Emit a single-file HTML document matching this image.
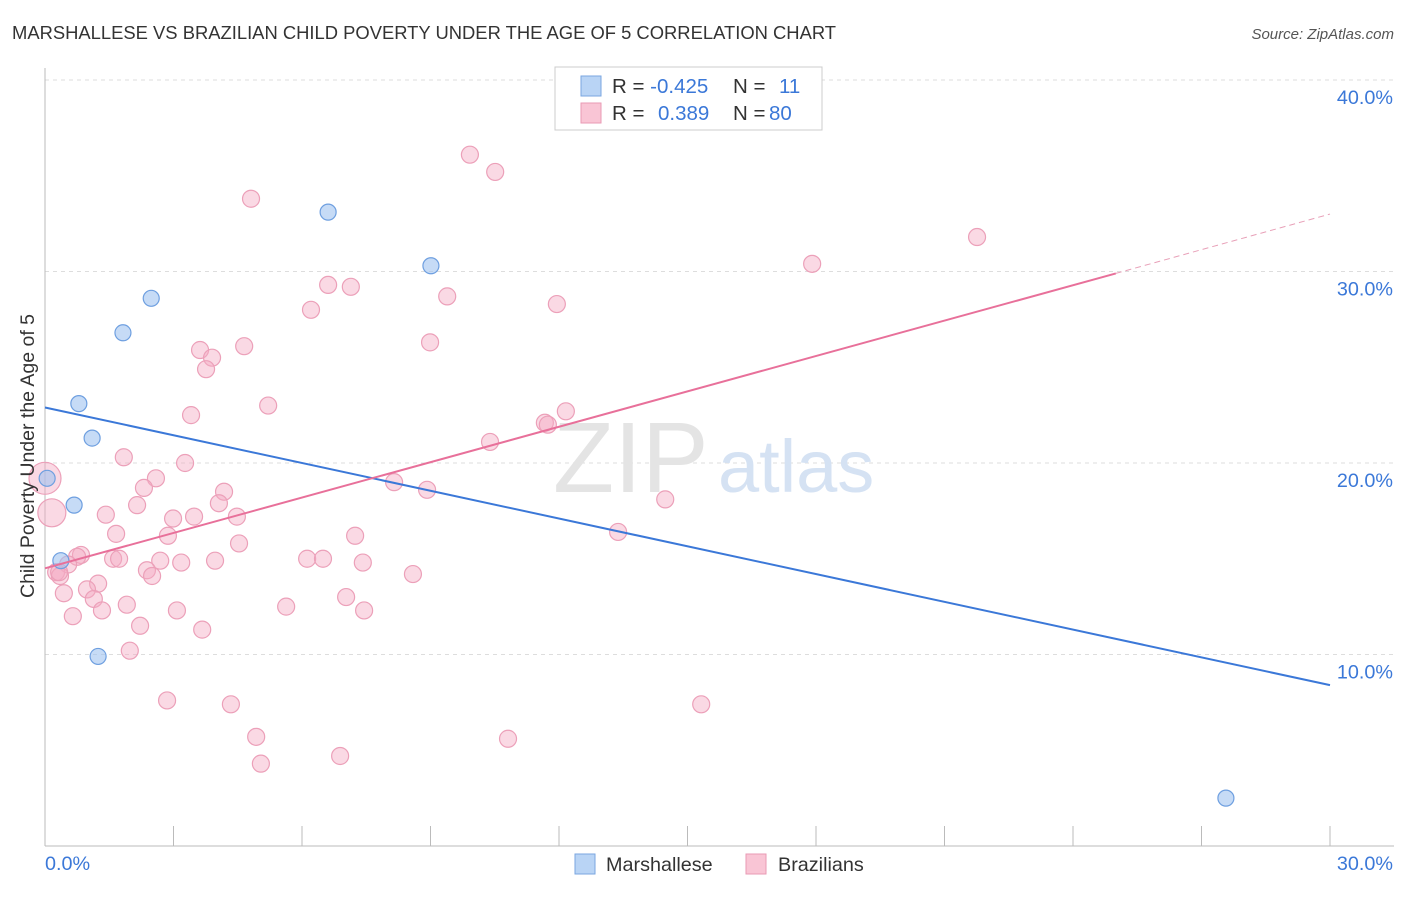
<!DOCTYPE html>
<html><head><meta charset="utf-8"><style>
body{margin:0;background:#fff;font-family:"Liberation Sans",sans-serif;}
svg text{font-family:"Liberation Sans",sans-serif;}
</style></head><body>
<svg id="chart" width="1406" height="892" xmlns="http://www.w3.org/2000/svg">
<text x="12" y="39" font-size="18.4" fill="#333">MARSHALLESE VS BRAZILIAN CHILD POVERTY UNDER THE AGE OF 5 CORRELATION CHART</text>
<text x="1394" y="39" font-size="15" fill="#555" font-style="italic" text-anchor="end">Source: ZipAtlas.com</text>
<g id="grid"></g>
<g><text x="553" y="492" font-size="100" fill="#e4e4e4" font-family="Liberation Serif">ZIP</text><text x="718" y="492" font-size="74" fill="#d5e2f3">atlas</text></g>
<g id="axes"></g>
<g id="pts"></g>
<g id="lines"></g>
<text transform="translate(34,456) rotate(-90)" font-size="19.5" fill="#333" text-anchor="middle">Child Poverty Under the Age of 5</text>
<g>
<rect x="555" y="67" width="267" height="63" fill="#fff" stroke="#ccc"/>
<rect x="581" y="76" width="20" height="20" fill="#b9d4f5" stroke="#7aa6e0"/>
<rect x="581" y="103" width="20" height="20" fill="#f9c5d5" stroke="#e99ab4"/>
<text x="612" y="93" font-size="20.5" fill="#333">R = <tspan fill="#3b78d8">-0.425</tspan><tspan x="733">N = </tspan><tspan x="779" fill="#3b78d8">11</tspan></text>
<text x="612" y="120" font-size="20.5" fill="#333">R = <tspan x="658" fill="#3b78d8">0.389</tspan><tspan x="733">N = </tspan><tspan x="769" fill="#3b78d8">80</tspan></text>
</g>
<g>
<rect x="575" y="854" width="20" height="20" fill="#b9d4f5" stroke="#7aa6e0"/>
<text x="606" y="871" font-size="19.8" fill="#333">Marshallese</text>
<rect x="746" y="854" width="20" height="20" fill="#f9c5d5" stroke="#e99ab4"/>
<text x="778" y="871" font-size="19.8" fill="#333">Brazilians</text>
</g>
</svg>
<script>
const yTicks=[10,20,30,40];
const yTickLabels=["10.0%","20.0%","30.0%","40.0%"];
const xTickLabels=["0.0%","30.0%"];
const marshX=[0.05,0.79,1.10,0.68,0.37,1.24,1.82,2.48,6.61,9.01,27.57];
const marshY=[19.2,23.1,21.3,17.8,14.9,9.9,26.8,28.6,33.1,30.3,2.5];
const brazX=[9.92,10.51,4.81,21.76,17.91,6.61,7.14,9.39,11.95,6.21,8.99,4.65,3.62,3.90,3.76,5.21,3.41,12.16,11.67,11.74,10.39,1.84,3.27,2.59,8.15,2.31,8.92,4.18,14.48,2.15,4.06,1.42,4.48,2.99,3.48,13.38,1.66,7.24,2.87,4.53,0.84,0.75,1.59,1.73,2.69,3.97,3.18,6.12,6.49,7.42,0.54,2.38,0.26,2.50,8.59,0.35,1.24,0.98,0.44,1.14,1.91,5.63,7.03,3.08,7.45,0.65,1.33,2.22,3.67,1.98,2.85,4.34,15.32,4.93,10.81,6.89,5.04,0.0,0.16,0.33];
const brazY=[36.1,35.2,33.8,31.8,30.4,29.3,29.2,28.7,28.3,28.0,26.3,26.1,25.9,25.5,24.9,23.0,22.5,22.7,22.1,22.0,21.1,20.3,20.0,19.2,19.0,18.7,18.6,18.5,18.1,17.8,17.9,17.3,17.2,17.1,17.2,16.4,16.3,16.2,16.2,15.8,15.2,15.1,15.0,15.0,14.9,14.9,14.8,15.0,15.0,14.8,14.7,14.4,14.3,14.1,14.2,14.1,13.7,13.4,13.2,12.9,12.6,12.5,13.0,12.3,12.3,12.0,12.3,11.5,11.3,10.2,7.6,7.4,7.4,5.7,5.6,4.7,4.3,19.2,17.4,14.3];
const brazR=brazX.map((_,i)=>i===77?16:(i===78?14:8.5));
const blueLine=[0,22.9,30,8.4];
const pinkLine=[0,14.5,25,29.9,30,33.0];
const NS="http://www.w3.org/2000/svg";
const sx=v=>45+v/30*1285, sy=v=>846-v*19.15;
function mk(t,a,p){const e=document.createElementNS(NS,t);for(const k in a)e.setAttribute(k,a[k]);document.getElementById(p).appendChild(e);return e;}
yTicks.forEach((t,i)=>{
 const g=mk('line',{x1:45,x2:1394,y1:sy(t),y2:sy(t),stroke:'#ddd','stroke-dasharray':'4,4'},'grid');
 
 
 const l=mk('text',{x:1393,y:sy(t)+24,'font-size':19.8,fill:'#3b78d8','text-anchor':'end'},'axes');l.textContent=yTickLabels[i];
 
 
});
const ax=mk('line',{x1:45,x2:45,y1:68,y2:846,stroke:'#bbb'},'axes');


const bx=mk('line',{x1:45,x2:1394,y1:846,y2:846,stroke:'#bbb'},'axes');


for(let i=1;i<=10;i++){const v=i*3;const t=mk('line',{x1:sx(v),x2:sx(v),y1:826,y2:846,stroke:'#bbb'},'axes');
 
 }
[[0,'start'],[30,'end']].forEach((p,i)=>{const l=mk('text',{x:i?1393:45,y:870,'font-size':19.8,fill:'#3b78d8','text-anchor':p[1]},'axes');l.textContent=xTickLabels[i];
 
 });
brazX.forEach((x,i)=>{const c=mk('circle',{cx:sx(x),cy:sy(brazY[i]),r:brazR[i],fill:'rgba(244,170,195,0.45)',stroke:'#eca0b9','stroke-width':1.2},'pts');
 
 });
marshX.forEach((x,i)=>{const c=mk('circle',{cx:sx(x),cy:sy(marshY[i]),r:8,fill:'rgba(160,195,240,0.6)',stroke:'#6e9fe0','stroke-width':1.2},'pts');
 
 });
const b=mk('line',{x1:sx(blueLine[0]),y1:sy(blueLine[1]),x2:sx(blueLine[2]),y2:sy(blueLine[3]),stroke:'#3b78d8','stroke-width':2},'lines');


const p=mk('line',{x1:sx(pinkLine[0]),y1:sy(pinkLine[1]),x2:sx(pinkLine[2]),y2:sy(pinkLine[3]),stroke:'#e8709a','stroke-width':2},'lines');


const pd=mk('line',{x1:sx(pinkLine[2]),y1:sy(pinkLine[3]),x2:sx(pinkLine[4]),y2:sy(pinkLine[5]),stroke:'#e8a0b8','stroke-width':1,'stroke-dasharray':'6,4'},'lines');


</script>
</body></html>
